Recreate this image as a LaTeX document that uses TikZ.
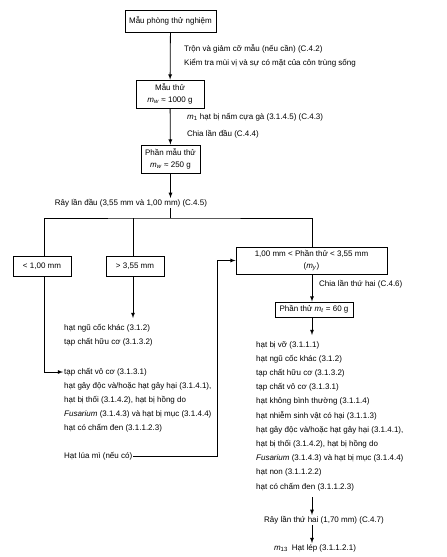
\documentclass[tikz,border=0pt]{standalone}
\usepackage{fontspec}
\setmainfont{Liberation Sans}
\usetikzlibrary{arrows, positioning, calc}

\begin{document}
\begin{tikzpicture}[
    x=1pt, y=-1pt,
    font=\fontsize{8}{14}\selectfont,
    box/.style={draw, line width=0.9pt, align=center, inner sep=2pt, font=\fontsize{8}{11.5}\selectfont},
    txt/.style={anchor=west, align=left, inner sep=1pt},
    line/.style={line width=0.8pt},
    arrow/.style={-latex, line width=0.8pt}
  ]
  \useasboundingbox (0,0) rectangle (447,557);

  % 1. Laboratory sample down to test portion
  \node[box, minimum width=91pt, minimum height=22pt] (lab) at (170.5,21) {Mẫu phòng thử nghiệm};
  \node[box, minimum width=68pt, minimum height=28pt] (test) at (170,94) {Mẫu thử\\\textit{m}\textsubscript{\textit{w}} ≈ 1000 g};
  \node[box, minimum width=59pt, minimum height=28pt] (sub) at (170.5,159) {Phần mẫu thử\\\textit{m}\textsubscript{\textit{w}} ≈ 250 g};
  \node[txt] (mix) at (183,56) {Trộn và giảm cỡ mẫu (nếu cần) (C.4.2)\\Kiểm tra mùi vị và sự có mặt của côn trùng sống};
  \node[txt] (ergot) at (186,125.5) {\textit{m}\textsubscript{1} hạt bị nấm cựa gà (3.1.4.5) (C.4.3)\\[3pt]Chia lần đầu (C.4.4)};
  \draw[arrow] (lab) -- (test);
  \draw[arrow] (test) -- (sub);

  % 2. First sieving
  \node[txt, anchor=center] (sieve1) at (131,203) {Rây lần đầu (3,55 mm và 1,00 mm) (C.4.5)};
  \draw[arrow] (sub) -- (sub |- sieve1.north);
  \coordinate (bus) at (170,218);
  \node[box, minimum width=58pt, minimum height=20pt] (small) at (42,266) {< 1,00 mm};
  \node[box, minimum width=58pt, minimum height=20pt] (big) at (135,266) {> 3,55 mm};
  \node[box, minimum width=151pt, minimum height=27pt] (range) at (311.5,260.5) {1,00 mm < Phần thử < 3,55 mm\\(\textit{m}\textsubscript{\textit{y}})};
  \draw[line] (sieve1.south -| bus) -- (bus);
  \draw[line] (small.north -| 44,0) |- (bus) -| (range.north -| 312,0);
  \draw[line] (big.north -| 133,0) -- (bus -| 133,0);

  % 3. Fractions of the first sieving
  \node[txt] (other) at (63,335.5) {hạt ngũ cốc khác (3.1.2)\\tạp chất hữu cơ (3.1.3.2)};
  \node[txt] (inorg) at (63,372) {tạp chất vô cơ (3.1.3.1)};
  \node[txt] (harm) at (63,407) {hạt gây độc và/hoặc hạt gây hại (3.1.4.1),\\hạt bị thối (3.1.4.2), hạt bị hồng do\\\textit{Fusarium} (3.1.4.3) và hạt bị mục (3.1.4.4)\\hạt có chấm đen (3.1.1.2.3)};
  \node[txt] (wheat) at (63,456) {Hạt lúa mì (nếu có)};
  \coordinate (turn) at (217,0);
  \draw[arrow] (big.south -| 133,0) -- (133,318);
  \draw[arrow] (small.south -| 44,0) |- (inorg.west);
  \draw[arrow] (wheat.east) -| (turn |- range.west) -- (range.west);

  % 4. Second division and second sieving
  \node[txt] (div2) at (318,284) {Chia lần thứ hai (C.4.6)};
  \node[box, minimum width=78pt, minimum height=15pt, inner sep=1pt] (portion) at (314,309.5) {Phần thử \textit{m}\textsubscript{\textit{t}} = 60 g};
  \node[txt, font=\fontsize{8}{14.2}\selectfont] (broken) at (255,416) {hạt bị vỡ (3.1.1.1)\\hạt ngũ cốc khác (3.1.2)\\tạp chất hữu cơ (3.1.3.2)\\tạp chất vô cơ (3.1.3.1)\\hạt không bình thường (3.1.1.4)\\hạt nhiễm sinh vật có hại (3.1.1.3)\\hạt gây độc và/hoặc hạt gây hại (3.1.4.1),\\hạt bị thối (3.1.4.2), hạt bị hồng do\\\textit{Fusarium} (3.1.4.3) và hạt bị mục (3.1.4.4)\\hạt non (3.1.1.2.2)\\hạt có chấm đen (3.1.1.2.3)};
  \node[txt, anchor=center] (sieve2) at (324,520) {Rây lần thứ hai (1,70 mm) (C.4.7)};
  \node[txt, anchor=center] (shrunk) at (315,548) {\textit{m}\textsubscript{13}\enspace Hạt lép (3.1.1.2.1)};
  \draw[arrow] (range.south -| 312,0) -- (portion.north -| 312,0);
  \draw[arrow] (portion.south -| 312,0) -- (312,335);
  \draw[arrow] (312,497) -- (sieve2.north -| 312,0);
  \draw[arrow] (sieve2.south -| 312,0) -- (shrunk.north -| 312,0);

\end{tikzpicture}
\end{document}
